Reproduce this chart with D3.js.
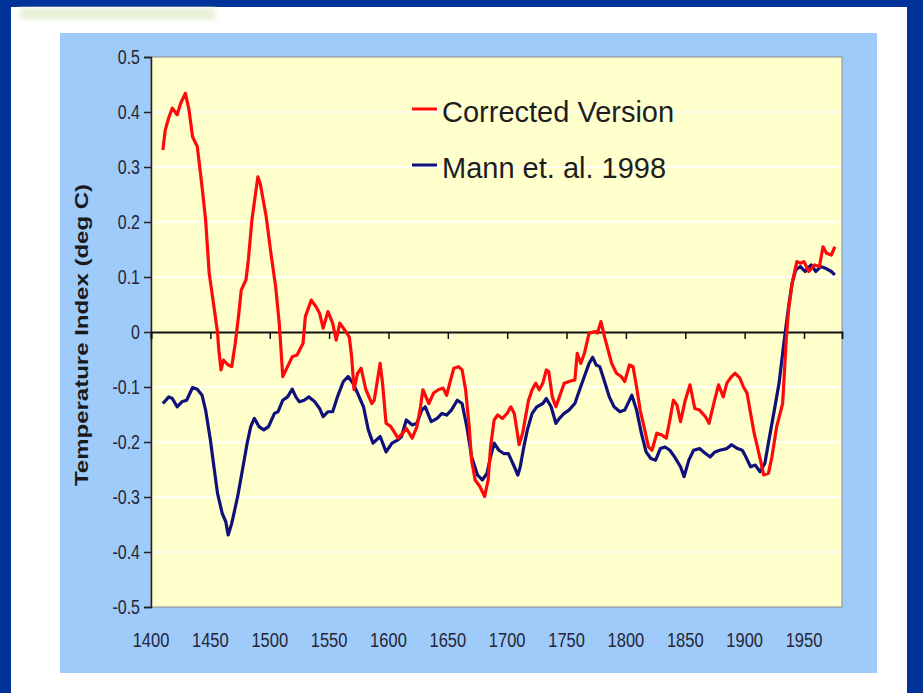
<!DOCTYPE html>
<html>
<head>
<meta charset="utf-8">
<script src="https://cdn.jsdelivr.net/npm/d3@7"></script>
<style>
  html, body { margin: 0; padding: 0; background: #003399; }
  svg { display: block; }
  text { font-family: Arial, "Liberation Sans", sans-serif; }
</style>
</head>
<body>
<div id="chart"></div>
<script>
"use strict";

// Corrected Version (red)
var correctedYears = [1410, 1412, 1415, 1418, 1422, 1425, 1429, 1432, 1435, 1439, 1443, 1446, 1449, 1453, 1456, 1457, 1459, 1461, 1465, 1468,
    1471, 1474, 1476, 1480, 1482, 1485, 1490, 1492, 1497, 1501, 1505, 1508, 1511, 1515, 1519, 1523, 1528, 1530, 1535, 1539,
    1542, 1545, 1549, 1553, 1556, 1559, 1563, 1567, 1569, 1571, 1574, 1577, 1581, 1586, 1588, 1593, 1595, 1598, 1602, 1608,
    1612, 1615, 1620, 1624, 1627, 1629, 1634, 1638, 1642, 1646, 1649, 1652, 1655, 1659, 1662, 1665, 1668, 1670, 1673, 1677,
    1681, 1684, 1686, 1689, 1692, 1696, 1700, 1703, 1706, 1709, 1710, 1713, 1716, 1718, 1721, 1724, 1727, 1730, 1733, 1735,
    1738, 1741, 1744, 1748, 1752, 1757, 1759, 1762, 1765, 1769, 1774, 1776, 1779, 1782, 1785, 1788, 1792, 1796, 1799, 1803,
    1806, 1809, 1812, 1815, 1819, 1822, 1826, 1830, 1834, 1837, 1840, 1843, 1846, 1850, 1854, 1858, 1862, 1867, 1870, 1874,
    1878, 1882, 1885, 1889, 1892, 1896, 1899, 1902, 1905, 1908, 1910, 1913, 1916, 1920, 1923, 1927, 1932, 1935, 1937, 1940,
    1944, 1947, 1950, 1954, 1959, 1963, 1966, 1969, 1973, 1976];
var correctedValues = [0.331, 0.367, 0.39, 0.407, 0.395, 0.416, 0.434, 0.404, 0.355, 0.337, 0.264, 0.204, 0.107, 0.046, 0.0, -0.03, -0.069, -0.051, -0.06, -0.063,
    -0.02, 0.034, 0.076, 0.095, 0.131, 0.204, 0.282, 0.27, 0.21, 0.143, 0.082, 0.016, -0.081, -0.063, -0.045, -0.042, -0.021, 0.028, 0.058, 0.046,
    0.034, 0.007, 0.037, 0.016, -0.015, 0.016, 0.004, -0.009, -0.045, -0.105, -0.075, -0.066, -0.105, -0.13, -0.124, -0.057, -0.093, -0.166, -0.172, -0.193,
    -0.184, -0.175, -0.193, -0.172, -0.136, -0.105, -0.13, -0.111, -0.105, -0.102, -0.115, -0.09, -0.066, -0.063, -0.069, -0.105, -0.172, -0.233, -0.269, -0.281,
    -0.299, -0.269, -0.209, -0.16, -0.151, -0.157, -0.148, -0.136, -0.148, -0.19, -0.205, -0.184, -0.148, -0.124, -0.105, -0.093, -0.105, -0.093, -0.069, -0.072,
    -0.118, -0.136, -0.118, -0.093, -0.09, -0.087, -0.039, -0.057, -0.039, -0.002, 0.001, -0.002, 0.019, -0.009, -0.033, -0.057, -0.075, -0.081, -0.09, -0.06,
    -0.063, -0.1, -0.142, -0.17, -0.209, -0.215, -0.184, -0.187, -0.193, -0.16, -0.124, -0.133, -0.163, -0.124, -0.096, -0.139, -0.142, -0.154, -0.166, -0.13,
    -0.096, -0.118, -0.093, -0.081, -0.075, -0.084, -0.1, -0.111, -0.148, -0.184, -0.202, -0.23, -0.26, -0.257, -0.227, -0.172, -0.13, -0.015, 0.04, 0.089,
    0.128, 0.125, 0.128, 0.11, 0.122, 0.119, 0.155, 0.143, 0.14, 0.155];

// Mann et. al. 1998 (navy)
var mannYears = [1410, 1415, 1418, 1422, 1426, 1430, 1435, 1439, 1443, 1446, 1450, 1453, 1456, 1460, 1463, 1465, 1468, 1473, 1477, 1481,
    1484, 1487, 1491, 1495, 1499, 1504, 1507, 1511, 1515, 1519, 1522, 1525, 1529, 1533, 1538, 1542, 1545, 1549, 1553, 1557,
    1562, 1566, 1570, 1574, 1579, 1583, 1587, 1593, 1598, 1603, 1608, 1611, 1615, 1620, 1624, 1628, 1631, 1636, 1641, 1645,
    1649, 1653, 1658, 1662, 1666, 1670, 1675, 1679, 1683, 1686, 1689, 1693, 1697, 1701, 1706, 1709, 1711, 1714, 1717, 1721,
    1725, 1730, 1733, 1737, 1741, 1744, 1748, 1752, 1757, 1761, 1765, 1769, 1772, 1775, 1778, 1782, 1786, 1790, 1795, 1799,
    1805, 1809, 1813, 1817, 1821, 1825, 1829, 1833, 1837, 1841, 1846, 1849, 1853, 1857, 1862, 1867, 1871, 1875, 1879, 1885,
    1889, 1894, 1898, 1901, 1905, 1909, 1913, 1917, 1920, 1925, 1929, 1933, 1937, 1940, 1943, 1947, 1951, 1956, 1960, 1964,
    1968, 1973, 1976];
var mannValues = [-0.13, -0.118, -0.121, -0.136, -0.127, -0.124, -0.101, -0.104, -0.115, -0.142, -0.196, -0.245, -0.293, -0.33, -0.345, -0.369, -0.348, -0.299, -0.251, -0.202,
    -0.172, -0.157, -0.172, -0.178, -0.172, -0.148, -0.145, -0.124, -0.118, -0.104, -0.118, -0.127, -0.124, -0.118, -0.127, -0.139, -0.154, -0.145, -0.145, -0.118,
    -0.09, -0.081, -0.093, -0.111, -0.136, -0.178, -0.202, -0.19, -0.218, -0.202, -0.196, -0.19, -0.16, -0.169, -0.166, -0.142, -0.136, -0.163, -0.157, -0.148,
    -0.151, -0.142, -0.124, -0.13, -0.172, -0.227, -0.26, -0.269, -0.257, -0.227, -0.202, -0.215, -0.221, -0.221, -0.245, -0.26, -0.245, -0.209, -0.178, -0.148,
    -0.136, -0.13, -0.121, -0.136, -0.166, -0.157, -0.148, -0.142, -0.13, -0.105, -0.081, -0.057, -0.046, -0.06, -0.063, -0.09, -0.118, -0.136, -0.145, -0.142,
    -0.115, -0.142, -0.184, -0.218, -0.23, -0.233, -0.212, -0.209, -0.215, -0.227, -0.245, -0.263, -0.233, -0.215, -0.212, -0.221, -0.227, -0.218, -0.215, -0.212,
    -0.205, -0.212, -0.215, -0.227, -0.245, -0.242, -0.254, -0.239, -0.202, -0.142, -0.093, -0.021, 0.046, 0.089, 0.113, 0.119, 0.11, 0.122, 0.11, 0.119,
    0.116, 0.11, 0.104];

var yTicks = [-0.5, -0.4, -0.3, -0.2, -0.1, 0, 0.1, 0.2, 0.3, 0.4, 0.5];
var xTicks = [1400, 1450, 1500, 1550, 1600, 1650, 1700, 1750, 1800, 1850, 1900, 1950];
var seriesNames = ["Corrected Version", "Mann et. al. 1998"];
var seriesColors = ["#ff0a0a", "#10107a"];

var width = 923, height = 693;
var plot = { left: 151, right: 842, top: 57, bottom: 607 };

var svg = d3.select("#chart").append("svg")
    .attr("width", width)
    .attr("height", height);

var defs = svg.append("defs");
defs.append("filter").attr("id", "blur")
    .append("feGaussianBlur").attr("stdDeviation", 3);

// slide background
svg.append("rect").attr("width", width).attr("height", height).attr("fill", "#003399");
svg.append("rect").attr("x", 11).attr("y", 7).attr("width", 896).attr("height", height - 7).attr("fill", "#ffffff");

// faded logo remnant in the corner
svg.append("rect").attr("x", 20).attr("y", 8).attr("width", 195).attr("height", 12)
    .attr("fill", "#e6f0d6").attr("filter", "url(#blur)");

// chart panel
svg.append("rect").attr("x", 60).attr("y", 33).attr("width", 817).attr("height", 640).attr("fill", "#9ecbfa");

// plot area
svg.append("rect")
    .attr("x", plot.left).attr("y", plot.top)
    .attr("width", plot.right - plot.left).attr("height", plot.bottom - plot.top)
    .attr("fill", "#ffffcc").attr("stroke", "#8c8c8c").attr("stroke-width", 1);

var x = d3.scaleLinear().domain([1400, 1982]).range([plot.left, plot.right]);
var y = d3.scaleLinear().domain([-0.5, 0.5]).range([plot.bottom, plot.top]);

// gridlines
svg.append("g").selectAll("line")
    .data(yTicks.filter(function (t) { return t !== 0 && t !== 0.5 && t !== -0.5; }))
    .join("line")
    .attr("x1", plot.left + 1).attr("x2", plot.right - 1)
    .attr("y1", function (d) { return y(d); }).attr("y2", function (d) { return y(d); })
    .attr("stroke", "#ffffff").attr("stroke-width", 2).attr("opacity", 0.85);

// y axis (labels a bit tall and narrow, like the stretched original)
var yAxis = svg.append("g")
    .attr("transform", "translate(" + plot.left + ",0)")
    .call(d3.axisLeft(y).tickValues(yTicks).tickSize(7).tickPadding(4)
        .tickFormat(function (d) { return d === 0 ? "0" : d.toFixed(1); }));
yAxis.select(".domain").attr("stroke", "#222").attr("stroke-width", 1.5);
yAxis.selectAll(".tick line").attr("stroke", "#222").attr("stroke-width", 1.5);
yAxis.selectAll(".tick text").attr("fill", "#252535").style("font-size", "16px")
    .style("font-family", "Arial, 'Liberation Sans', sans-serif")
    .attr("transform", "scale(1,1.22)");

// x axis sits on the zero line
var xAxis = svg.append("g")
    .attr("transform", "translate(0," + y(0) + ")")
    .call(d3.axisBottom(x).tickValues(xTicks).tickSize(7).tickFormat(""));
xAxis.select(".domain").attr("stroke", "#111").attr("stroke-width", 1.8);
xAxis.selectAll(".tick line").attr("stroke", "#111").attr("stroke-width", 1.5);

// year labels under the plot
svg.append("g").selectAll("text")
    .data(xTicks)
    .join("text")
    .attr("transform", function (d) { return "translate(" + x(d) + ",647) scale(1,1.22)"; })
    .attr("text-anchor", "middle")
    .attr("fill", "#252535")
    .style("font-size", "16.5px")
    .text(function (d) { return d; });

// axis title
svg.append("text")
    .attr("transform", "translate(88,335) rotate(-90)")
    .attr("text-anchor", "middle")
    .attr("fill", "#1a1a1a")
    .attr("font-weight", "bold")
    .attr("textLength", 302)
    .attr("lengthAdjust", "spacingAndGlyphs")
    .style("font-size", "19px")
    .text("Temperature Index (deg C)");

// series
var line = d3.line()
    .x(function (d) { return x(d[0]); })
    .y(function (d) { return y(d[1]); });

var series = [
    d3.zip(mannYears, mannValues),
    d3.zip(correctedYears, correctedValues)
];
svg.append("path").datum(series[0])
    .attr("d", line).attr("fill", "none")
    .attr("stroke", seriesColors[1]).attr("stroke-width", 3.2).attr("stroke-linejoin", "round");
svg.append("path").datum(series[1])
    .attr("d", line).attr("fill", "none")
    .attr("stroke", seriesColors[0]).attr("stroke-width", 3.2).attr("stroke-linejoin", "round");

// legend
var legend = svg.append("g");
seriesNames.forEach(function (name, i) {
    var ly = 109 + i * 56;
    legend.append("line")
        .attr("x1", 412).attr("x2", 437).attr("y1", ly).attr("y2", ly)
        .attr("stroke", seriesColors[i]).attr("stroke-width", 3);
    legend.append("text")
        .attr("x", 442).attr("y", ly + 13)
        .attr("fill", "#1e1e1e")
        .style("font-size", "29px")
        .text(name);
});
</script>
</body>
</html>
